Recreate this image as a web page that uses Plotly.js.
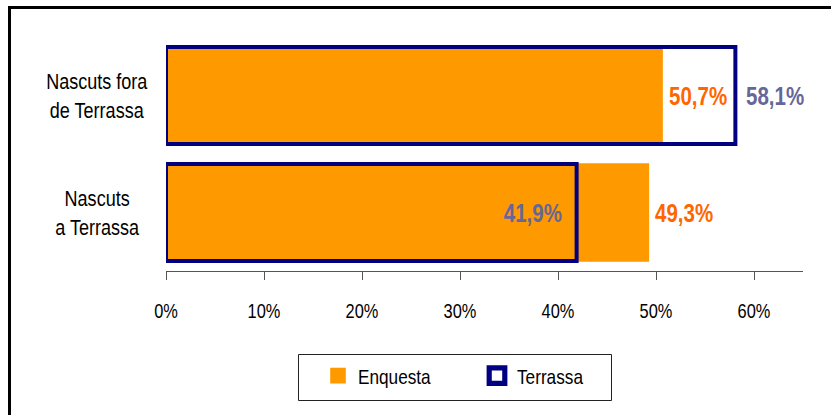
<!DOCTYPE html>
<html>
<head>
<meta charset="utf-8">
<script src="https://cdn.plot.ly/plotly-3.0.1.min.js"></script>
<style>
  html, body { margin: 0; padding: 0; background: #fff; }
  #chart { width: 831px; height: 415px; }
</style>
</head>
<body>
<div id="chart"></div>
<script>
// ---- data ----
const categories = ['Nascuts a Terrassa', 'Nascuts fora de Terrassa'];
const categoryLabels = ['Nascuts<br>a Terrassa', 'Nascuts fora<br>de Terrassa'];
const seriesNames = ['Enquesta', 'Terrassa'];
const enquesta = [49.3, 50.7];
const terrassa = [41.9, 58.1];
const xTickValues = [0, 10, 20, 30, 40, 50, 60];
const xTickLabels = ['0%', '10%', '20%', '30%', '40%', '50%', '60%'];

// ---- style ----
const FONT = 'Liberation Sans, Arial, sans-serif';
const NARROW = 0.82;   // horizontal condensing to mimic Arial Narrow
const ORANGE = '#FF9900';
const NAVY = '#000080';
const ORANGE_TXT = '#FF6600';
const NAVY_TXT = '#666699';

const W = 831, H = 415;
const M = { l: 166, r: 28, t: 37, b: 144 };
const PW = W - M.l - M.r, PH = H - M.t - M.b;
const px = x => (x - M.l) / PW;          // pixel -> paper x
const py = y => (H - M.b - y) / PH;      // pixel -> paper y

const fmt = v => v.toFixed(1).replace('.', ',') + '%';

const traces = [
  {
    type: 'bar', orientation: 'h', name: seriesNames[0],
    y: categories, x: enquesta, width: 0.84,
    marker: { color: ORANGE, line: { width: 0 } },
    hoverinfo: 'skip'
  },
  {
    type: 'bar', orientation: 'h', name: seriesNames[1],
    y: categories, x: terrassa, width: 0.83,
    marker: { color: 'rgba(0,0,0,0)', line: { color: NAVY, width: 4 } },
    hoverinfo: 'skip'
  }
];

const annotations = [];
categories.forEach((c, i) => {
  annotations.push({
    xref: 'paper', yref: 'y', x: px(97), y: c,
    text: categoryLabels[i], showarrow: false, align: 'center',
    xanchor: 'center', yanchor: 'middle',
    font: { family: FONT, size: 22, color: '#000' }
  });
  annotations.push({
    xref: 'x', yref: 'y', x: enquesta[i], y: c,
    text: '<b>' + fmt(enquesta[i]) + '</b>', showarrow: false,
    xanchor: 'left', align: 'left', yanchor: 'middle', xshift: 4, yshift: 0,
    font: { family: FONT, size: 25, color: ORANGE_TXT }
  });
  const inside = terrassa[i] < enquesta[i];
  annotations.push({
    xref: 'x', yref: 'y', x: terrassa[i], y: c,
    text: '<b>' + fmt(terrassa[i]) + '</b>', showarrow: false,
    xanchor: inside ? 'right' : 'left', align: inside ? 'right' : 'left',
    yanchor: 'middle', xshift: inside ? -13 : 9, yshift: 0,
    font: { family: FONT, size: 25, color: NAVY_TXT }
  });
});

const shapes = [
  // outer chart frame (top & left visible, runs off right/bottom)
  { type: 'rect', xref: 'paper', yref: 'paper', layer: 'below',
    x0: px(9.5), x1: px(W + 10), y0: py(H + 10), y1: py(7.5),
    line: { color: '#000', width: 3 }, fillcolor: 'rgba(0,0,0,0)' },
  // legend box
  { type: 'rect', xref: 'paper', yref: 'paper',
    x0: px(298.5), x1: px(611.5), y0: py(400.5), y1: py(354.5),
    line: { color: '#222', width: 1 }, fillcolor: 'rgba(0,0,0,0)' }
];

const layout = {
  width: W, height: H,
  margin: M,
  paper_bgcolor: '#fff', plot_bgcolor: 'rgba(0,0,0,0)',
  barmode: 'overlay',
  showlegend: true,
  font: { family: FONT, size: 20, color: '#000' },
  xaxis: {
    range: [0, 65], tickmode: 'array', tickvals: xTickValues, ticktext: xTickLabels,
    ticks: 'outside', ticklen: 8, tickwidth: 1, tickcolor: '#555',
    showline: true, linecolor: '#555', linewidth: 1,
    showgrid: false, zeroline: false, ticklabelstandoff: 14,
    tickfont: { family: FONT, size: 20, color: '#000' },
    fixedrange: true
  },
  yaxis: {
    type: 'category', categoryorder: 'array', categoryarray: categories,
    range: [-0.5, 1.5], showticklabels: false, ticks: '',
    showline: false, showgrid: false, zeroline: false, fixedrange: true
  },
  legend: {
    orientation: 'h', x: px(318), xanchor: 'left', y: py(376), yanchor: 'middle',
    bgcolor: 'rgba(0,0,0,0)', borderwidth: 0,
    font: { family: FONT, size: 21, color: '#000' },
    entrywidth: 114, entrywidthmode: 'pixels', traceorder: 'normal'
  },
  annotations: annotations,
  shapes: shapes
};

Plotly.newPlot('chart', traces, layout, { staticPlot: true, displayModeBar: false }).then(gd => {
  // condense all text horizontally about its anchor point (Arial Narrow look)
  gd.querySelectorAll('svg text').forEach(t => {
    const x = parseFloat(t.getAttribute('x')) || 0;
    const tr = t.getAttribute('transform') || '';
    t.setAttribute('transform',
      tr + ' translate(' + x + ',0) scale(' + NARROW + ',1) translate(' + (-x) + ',0)');
  });
  // slightly larger legend swatches, as in the original
  gd.querySelectorAll('.legendpoints path').forEach(p => {
    const tr = p.getAttribute('transform') || '';
    p.setAttribute('transform', tr + ' scale(1.3)');
  });
});
</script>
</body>
</html>
